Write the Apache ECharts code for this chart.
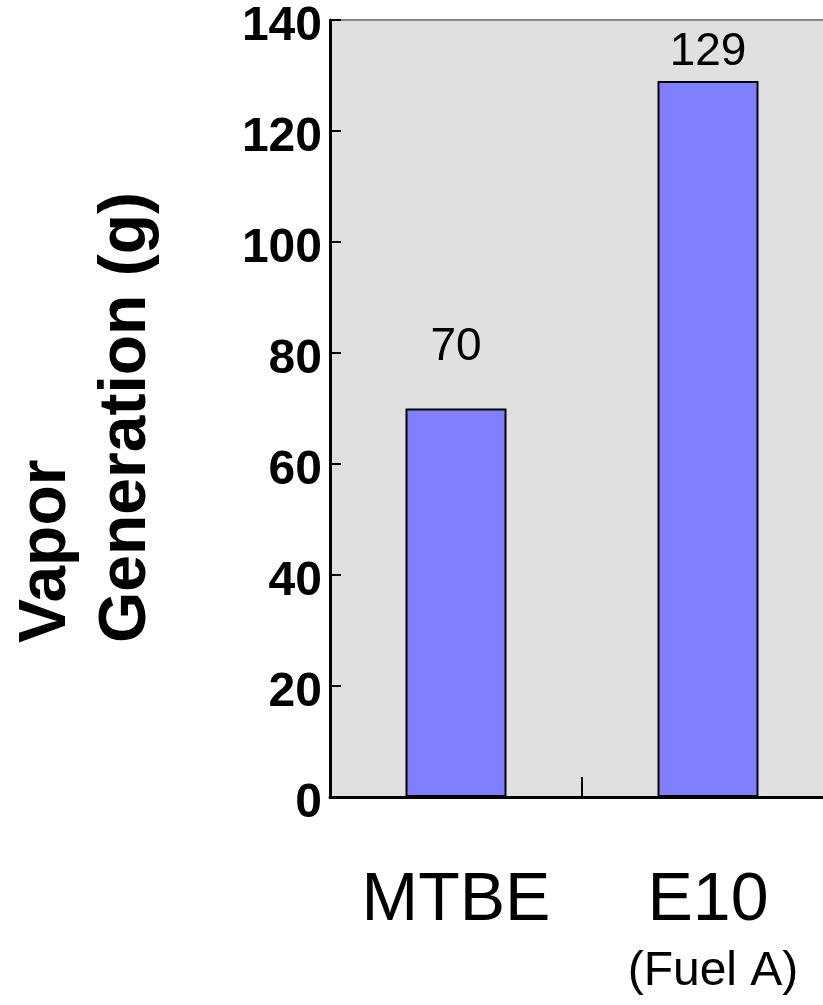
<!DOCTYPE html>
<html>
<head>
<meta charset="utf-8">
<script src="https://cdn.jsdelivr.net/npm/echarts@6/dist/echarts.min.js"></script>
<style>
html,body{margin:0;padding:0;background:#fff;}
#chart{width:823px;height:1005px;}
</style>
</head>
<body>
<div id="chart"></div>
<script>
const categories = ['MTBE', 'E10'];
const subLabels = ['', '(Fuel A)'];
const values = [70, 129];
const labelGaps = [38, 6];
const yTicks = [0, 20, 40, 60, 80, 100, 120, 140];
const yTitle = ['Vapor', 'Generation (g)'];

const chart = echarts.init(document.getElementById('chart'), null, {renderer: 'canvas'});
const FONT = '"Liberation Sans", Arial, sans-serif';

chart.setOption({
  animation: false,
  backgroundColor: '#ffffff',
  grid: {
    left: 330, top: 20, width: 504, height: 777,
    outerBoundsMode: 'none',
    containLabel: false,
    show: true, backgroundColor: '#e0e0e0', borderColor: '#888888', borderWidth: 2
  },
  xAxis: {
    type: 'category',
    data: categories,
    axisLine: {show: true, lineStyle: {color: '#000', width: 3}},
    axisTick: {show: true, inside: true, length: 20, alignWithLabel: false, interval: 0, lineStyle: {color: '#000', width: 2}},
    axisLabel: {
      margin: 68,
      interval: 0,
      hideOverlap: false,
      formatter: function (v, i) {
        return subLabels[i] ? '{a|' + v + '}\n{b|' + subLabels[i] + '}' : '{a|' + v + '}';
      },
      rich: {
        a: {fontFamily: FONT, fontSize: 68, lineHeight: 72, color: '#000'},
        b: {fontFamily: FONT, fontSize: 48, lineHeight: 70, color: '#000', padding: [0, 0, 0, 10]}
      }
    }
  },
  yAxis: {
    type: 'value',
    min: yTicks[0], max: yTicks[yTicks.length - 1], interval: 20,
    splitLine: {show: false},
    axisLine: {show: true, lineStyle: {color: '#000', width: 3}},
    axisTick: {show: true, inside: true, length: 11, lineStyle: {color: '#000', width: 2}},
    axisLabel: {
      fontFamily: FONT, fontSize: 48, fontWeight: 'bold', color: '#000',
      margin: 8, verticalAlign: 'top', lineHeight: 14
    }
  },
  series: [{
    type: 'bar',
    barWidth: 101,
    data: values.map((v, i) => ({
      value: v,
      label: {distance: labelGaps[i]}
    })),
    itemStyle: {color: '#8080ff', borderColor: '#000', borderWidth: 2},
    label: {
      show: true, position: 'top',
      fontFamily: FONT, fontSize: 46, color: '#000'
    }
  }],
  graphic: [{
    type: 'text',
    x: 7, y: 643,
    rotation: Math.PI / 2,
    style: {
      text: yTitle.join('\n'),
      font: 'bold 66px "Liberation Sans", Arial, sans-serif',
      fill: '#000',
      align: 'left',
      verticalAlign: 'top',
      lineHeight: 80
    }
  }]
});
</script>
</body>
</html>
